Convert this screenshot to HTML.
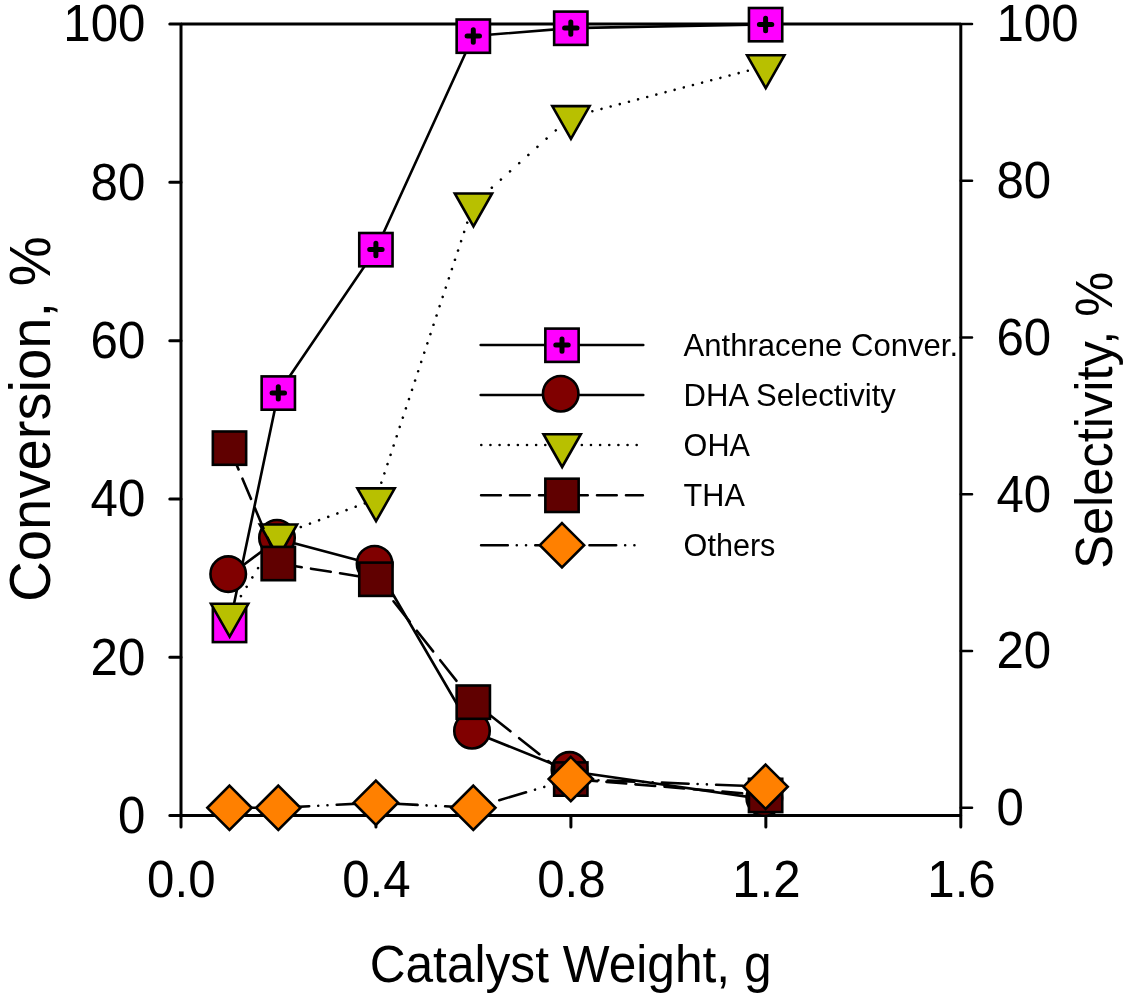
<!DOCTYPE html>
<html lang="en">
<head>
<meta charset="utf-8">
<title>Conversion and Selectivity vs Catalyst Weight</title>
<style>
html,body{margin:0;padding:0;background:#fff;}
body{width:1129px;height:1000px;overflow:hidden;}
svg{display:block;}
text{font-family:"Liberation Sans",Arial,Helvetica,sans-serif;fill:#000;}
.tk{font-size:50px;}
.ti{font-size:50px;}
.lg{font-size:30.5px;}
</style>
</head>
<body>
<svg width="1129" height="1000" viewBox="0 0 1129 1000">
<rect width="1129" height="1000" fill="#fff"/>
<g id="axes" stroke="#000" fill="none" stroke-linecap="round">
<path d="M181.0 24.0H960.8M181.0 815.6H960.8M181.0 24.0V815.6M960.8 24.0V815.6" stroke-width="3.0" stroke-linecap="butt"/>
<path d="M181 815.6H169.8M181 657.28H169.8M181 498.96H169.8M181 340.64H169.8M181 182.32H169.8M181 24H169.8M181 815.6V827.1M375.95 815.6V827.1M570.9 815.6V827.1M765.85 815.6V827.1M960.8 815.6V827.1" stroke-width="3.0"/>
<path d="M960.8 807.8H972M960.8 651.04H972M960.8 494.28H972M960.8 337.52H972M960.8 180.76H972M960.8 24H972" stroke-width="2.6"/>
</g>
<g id="series">
<polyline points="229.5,625.3 278.3,392.9 375.9,249.5 473.3,36 570.8,28.1 765.6,24.5" fill="none" stroke="#000" stroke-width="2.6" stroke-linecap="round" stroke-linejoin="round"/>
<rect x="212.85" y="608.8" width="33.3" height="33.3" fill="#ff00ff" stroke="#000" stroke-width="2.6" stroke-linejoin="miter"/>
<path d="M225.3 625.3H233.7M229.5 621.1V629.5" stroke="#000" stroke-width="5" stroke-linecap="round" fill="none"/>
<rect x="261.65" y="376.4" width="33.3" height="33.3" fill="#ff00ff" stroke="#000" stroke-width="2.6" stroke-linejoin="miter"/>
<path d="M272.1 392.9H284.5M278.3 386.7V399.1" stroke="#000" stroke-width="5" stroke-linecap="round" fill="none"/>
<rect x="359.25" y="233" width="33.3" height="33.3" fill="#ff00ff" stroke="#000" stroke-width="2.6" stroke-linejoin="miter"/>
<path d="M369.7 249.5H382.1M375.9 243.3V255.7" stroke="#000" stroke-width="5" stroke-linecap="round" fill="none"/>
<rect x="456.65" y="19.5" width="33.3" height="33.3" fill="#ff00ff" stroke="#000" stroke-width="2.6" stroke-linejoin="miter"/>
<path d="M467.1 36H479.5M473.3 29.8V42.2" stroke="#000" stroke-width="5" stroke-linecap="round" fill="none"/>
<rect x="554.15" y="11.6" width="33.3" height="33.3" fill="#ff00ff" stroke="#000" stroke-width="2.6" stroke-linejoin="miter"/>
<path d="M564.6 28.1H577M570.8 21.9V34.3" stroke="#000" stroke-width="5" stroke-linecap="round" fill="none"/>
<rect x="748.95" y="8" width="33.3" height="33.3" fill="#ff00ff" stroke="#000" stroke-width="2.6" stroke-linejoin="miter"/>
<path d="M759.4 24.5H771.8M765.6 18.3V30.7" stroke="#000" stroke-width="5" stroke-linecap="round" fill="none"/>
<polyline points="229.5,575.4 278.3,539.1 375.9,565 473.3,732 570.8,771.2 765.6,799.3" fill="none" stroke="#000" stroke-width="2.6" stroke-linecap="round" stroke-linejoin="round"/>
<circle cx="228.2" cy="574.1" r="17.75" fill="#800000" stroke="#000" stroke-width="2.6"/>
<circle cx="277" cy="537.8" r="17.75" fill="#800000" stroke="#000" stroke-width="2.6"/>
<circle cx="374.6" cy="563.7" r="17.75" fill="#800000" stroke="#000" stroke-width="2.6"/>
<circle cx="472" cy="730.7" r="17.75" fill="#800000" stroke="#000" stroke-width="2.6"/>
<circle cx="569.5" cy="769.9" r="17.75" fill="#800000" stroke="#000" stroke-width="2.6"/>
<circle cx="764.3" cy="798" r="17.75" fill="#800000" stroke="#000" stroke-width="2.6"/>
<line x1="229.5" y1="614.6" x2="278.3" y2="535.3" stroke="#000" stroke-width="2.6" stroke-linecap="round" stroke-dasharray="0.01 10.89" stroke-dashoffset="0.01"/>
<line x1="278.3" y1="535.3" x2="375.9" y2="499.2" stroke="#000" stroke-width="2.6" stroke-linecap="round" stroke-dasharray="0.01 9.74" stroke-dashoffset="5.26"/>
<line x1="375.9" y1="499.2" x2="473.3" y2="204.3" stroke="#000" stroke-width="2.6" stroke-linecap="round" stroke-dasharray="0.01 9.77" stroke-dashoffset="2.14"/>
<line x1="473.3" y1="204.3" x2="570.8" y2="116.9" stroke="#000" stroke-width="2.6" stroke-linecap="round" stroke-dasharray="0.01 12.26" stroke-dashoffset="11.97"/>
<line x1="570.8" y1="116.9" x2="765.6" y2="66.1" stroke="#000" stroke-width="2.6" stroke-linecap="round" stroke-dasharray="0.01 9.44" stroke-dashoffset="6.07"/>
<path d="M211 603.8H248.3L229.65 636.6Z" fill="#b8c000" stroke="#000" stroke-width="2.6" stroke-linejoin="miter" stroke-miterlimit="10"/>
<path d="M259.8 524.5H297.1L278.45 557.3Z" fill="#b8c000" stroke="#000" stroke-width="2.6" stroke-linejoin="miter" stroke-miterlimit="10"/>
<path d="M357.4 488.4H394.7L376.05 521.2Z" fill="#b8c000" stroke="#000" stroke-width="2.6" stroke-linejoin="miter" stroke-miterlimit="10"/>
<path d="M454.8 193.5H492.1L473.45 226.3Z" fill="#b8c000" stroke="#000" stroke-width="2.6" stroke-linejoin="miter" stroke-miterlimit="10"/>
<path d="M552.3 106.1H589.6L570.95 138.9Z" fill="#b8c000" stroke="#000" stroke-width="2.6" stroke-linejoin="miter" stroke-miterlimit="10"/>
<path d="M747.1 55.3H784.4L765.75 88.1Z" fill="#b8c000" stroke="#000" stroke-width="2.6" stroke-linejoin="miter" stroke-miterlimit="10"/>
<line x1="229.5" y1="448" x2="278.3" y2="563.4" stroke="#000" stroke-width="2.6" stroke-linecap="round" stroke-dasharray="22 9.99" stroke-dashoffset="30.69"/>
<line x1="278.3" y1="563.4" x2="375.9" y2="579.1" stroke="#000" stroke-width="2.6" stroke-linecap="round" stroke-dasharray="19.99 9.39" stroke-dashoffset="25.62"/>
<line x1="375.9" y1="579.1" x2="473.3" y2="702" stroke="#000" stroke-width="2.6" stroke-linecap="round" stroke-dasharray="26.31 11.29" stroke-dashoffset="9.31"/>
<line x1="473.3" y1="702" x2="570.8" y2="778.9" stroke="#000" stroke-width="2.6" stroke-linecap="round" stroke-dasharray="25.8 11.13" stroke-dashoffset="15.44"/>
<line x1="570.8" y1="778.9" x2="765.6" y2="795.3" stroke="#000" stroke-width="2.6" stroke-linecap="round" stroke-dasharray="19.78 9.32" stroke-dashoffset="22.43"/>
<rect x="212.85" y="431.5" width="33.3" height="33.3" fill="#600000" stroke="#000" stroke-width="2.6" stroke-linejoin="miter"/>
<rect x="261.65" y="546.9" width="33.3" height="33.3" fill="#600000" stroke="#000" stroke-width="2.6" stroke-linejoin="miter"/>
<rect x="359.25" y="562.6" width="33.3" height="33.3" fill="#600000" stroke="#000" stroke-width="2.6" stroke-linejoin="miter"/>
<rect x="456.65" y="685.5" width="33.3" height="33.3" fill="#600000" stroke="#000" stroke-width="2.6" stroke-linejoin="miter"/>
<rect x="554.15" y="762.4" width="33.3" height="33.3" fill="#600000" stroke="#000" stroke-width="2.6" stroke-linejoin="miter"/>
<rect x="748.95" y="778.8" width="33.3" height="33.3" fill="#600000" stroke="#000" stroke-width="2.6" stroke-linejoin="miter"/>
<line x1="229.5" y1="807.8" x2="278.3" y2="807.8" stroke="#000" stroke-width="2.6" stroke-linecap="round" stroke-dasharray="26.7 8.99 0.01 9.25 0.01 9.23" stroke-dashoffset="1.2"/>
<line x1="278.3" y1="807.8" x2="375.9" y2="802.7" stroke="#000" stroke-width="2.6" stroke-linecap="round" stroke-dasharray="26.74 9.01 0.01 9.26 0.01 9.25" stroke-dashoffset="50.07"/>
<line x1="375.9" y1="802.7" x2="473.3" y2="807.8" stroke="#000" stroke-width="2.6" stroke-linecap="round" stroke-dasharray="26.74 9.01 0.01 9.26 0.01 9.25" stroke-dashoffset="39.26"/>
<line x1="473.3" y1="807.8" x2="570.8" y2="779.1" stroke="#000" stroke-width="2.6" stroke-linecap="round" stroke-dasharray="27.94 9.32 0.01 9.64 0.01 9.57" stroke-dashoffset="29.45"/>
<line x1="570.8" y1="779.1" x2="765.6" y2="786.7" stroke="#000" stroke-width="2.6" stroke-linecap="round" stroke-dasharray="26.72 9 0.01 9.26 0.01 9.24" stroke-dashoffset="17.31"/>
<path d="M229.5 785.65L251.65 807.8L229.5 829.95L207.35 807.8Z" fill="#ff8000" stroke="#000" stroke-width="2.6" stroke-linejoin="miter"/>
<path d="M278.3 785.65L300.45 807.8L278.3 829.95L256.15 807.8Z" fill="#ff8000" stroke="#000" stroke-width="2.6" stroke-linejoin="miter"/>
<path d="M375.9 780.55L398.05 802.7L375.9 824.85L353.75 802.7Z" fill="#ff8000" stroke="#000" stroke-width="2.6" stroke-linejoin="miter"/>
<path d="M473.3 785.65L495.45 807.8L473.3 829.95L451.15 807.8Z" fill="#ff8000" stroke="#000" stroke-width="2.6" stroke-linejoin="miter"/>
<path d="M570.8 756.95L592.95 779.1L570.8 801.25L548.65 779.1Z" fill="#ff8000" stroke="#000" stroke-width="2.6" stroke-linejoin="miter"/>
<path d="M765.6 764.55L787.75 786.7L765.6 808.85L743.45 786.7Z" fill="#ff8000" stroke="#000" stroke-width="2.6" stroke-linejoin="miter"/>
</g>
<g id="ticklabels" class="tk">
<text transform="translate(145.4 833) scale(0.985 1.025)" text-anchor="end">0</text>
<text transform="translate(996.4 825) scale(0.985 1.025)" text-anchor="start">0</text>
<text transform="translate(145.4 674.64) scale(0.985 1.025)" text-anchor="end">20</text>
<text transform="translate(996.4 668.26) scale(0.985 1.025)" text-anchor="start">20</text>
<text transform="translate(145.4 516.28) scale(0.985 1.025)" text-anchor="end">40</text>
<text transform="translate(996.4 511.52) scale(0.985 1.025)" text-anchor="start">40</text>
<text transform="translate(145.4 357.92) scale(0.985 1.025)" text-anchor="end">60</text>
<text transform="translate(996.4 354.78) scale(0.985 1.025)" text-anchor="start">60</text>
<text transform="translate(145.4 199.56) scale(0.985 1.025)" text-anchor="end">80</text>
<text transform="translate(996.4 198.04) scale(0.985 1.025)" text-anchor="start">80</text>
<text transform="translate(145.4 41.2) scale(0.985 1.025)" text-anchor="end">100</text>
<text transform="translate(996.4 41.3) scale(0.985 1.025)" text-anchor="start">100</text>
<text transform="translate(181.3 897.4) scale(0.985 1.025)" text-anchor="middle">0.0</text>
<text transform="translate(376.35 897.4) scale(0.985 1.025)" text-anchor="middle">0.4</text>
<text transform="translate(571.4 897.4) scale(0.985 1.025)" text-anchor="middle">0.8</text>
<text transform="translate(766.45 897.4) scale(0.985 1.025)" text-anchor="middle">1.2</text>
<text transform="translate(961.5 897.4) scale(0.985 1.025)" text-anchor="middle">1.6</text>
</g>
<g id="titles" class="ti">
<text transform="translate(570.6 981.9) scale(1 1.035)" text-anchor="middle" style="font-size:49.65px">Catalyst Weight, g</text>
<text transform="translate(49.5 419) rotate(-90) scale(1 1.035)" text-anchor="middle" style="font-size:56.2px">Conversion, %</text>
<text transform="translate(1111.8 420.3) rotate(-90) scale(1 1.035)" text-anchor="middle" style="font-size:50.6px">Selectivity, %</text>
</g>
<g id="legend">
<polyline points="480.6,345.1 643.3,345.1" fill="none" stroke="#000" stroke-width="2.5" stroke-linecap="round" stroke-linejoin="round"/>
<rect x="545.35" y="328.6" width="33.3" height="33.3" fill="#ff00ff" stroke="#000" stroke-width="2.6" stroke-linejoin="miter"/>
<path d="M555.8 345.1H568.2M562 338.9V351.3" stroke="#000" stroke-width="5" stroke-linecap="round" fill="none"/>
<polyline points="480.6,395 643.3,395" fill="none" stroke="#000" stroke-width="2.5" stroke-linecap="round" stroke-linejoin="round"/>
<circle cx="560.7" cy="393.7" r="17.75" fill="#800000" stroke="#000" stroke-width="2.6"/>
<line x1="480.8" y1="445" x2="638" y2="445" stroke="#000" stroke-width="2.6" stroke-linecap="round" stroke-dasharray="0.01 9.13" stroke-dashoffset="8.65"/>
<path d="M543.5 434.2H580.8L562.15 467Z" fill="#b8c000" stroke="#000" stroke-width="2.6" stroke-linejoin="miter" stroke-miterlimit="10"/>
<line x1="479.8" y1="495.2" x2="642.9" y2="495.2" stroke="#000" stroke-width="2.6" stroke-linecap="round" stroke-dasharray="19.7 9.28" stroke-dashoffset="27.68"/>
<rect x="545.35" y="478.7" width="33.3" height="33.3" fill="#600000" stroke="#000" stroke-width="2.6" stroke-linejoin="miter"/>
<line x1="479.8" y1="545.2" x2="638" y2="545.2" stroke="#000" stroke-width="2.6" stroke-linecap="round" stroke-dasharray="26.7 8.99 0.01 9.25 0.01 9.23" stroke-dashoffset="52.9"/>
<path d="M562 523.05L584.15 545.2L562 567.35L539.85 545.2Z" fill="#ff8000" stroke="#000" stroke-width="2.6" stroke-linejoin="miter"/>
<text class="lg" x="683.6" y="356.1" style="font-size:31.05px">Anthracene Conver.</text>
<text class="lg" x="683.6" y="406" style="font-size:31.05px">DHA Selectivity</text>
<text class="lg" x="683.6" y="456" style="font-size:30.6px">OHA</text>
<text class="lg" x="683.6" y="506.2" style="font-size:30.6px">THA</text>
<text class="lg" x="683.6" y="556.2" style="font-size:30.6px">Others</text>
</g>
</svg>
</body>
</html>
